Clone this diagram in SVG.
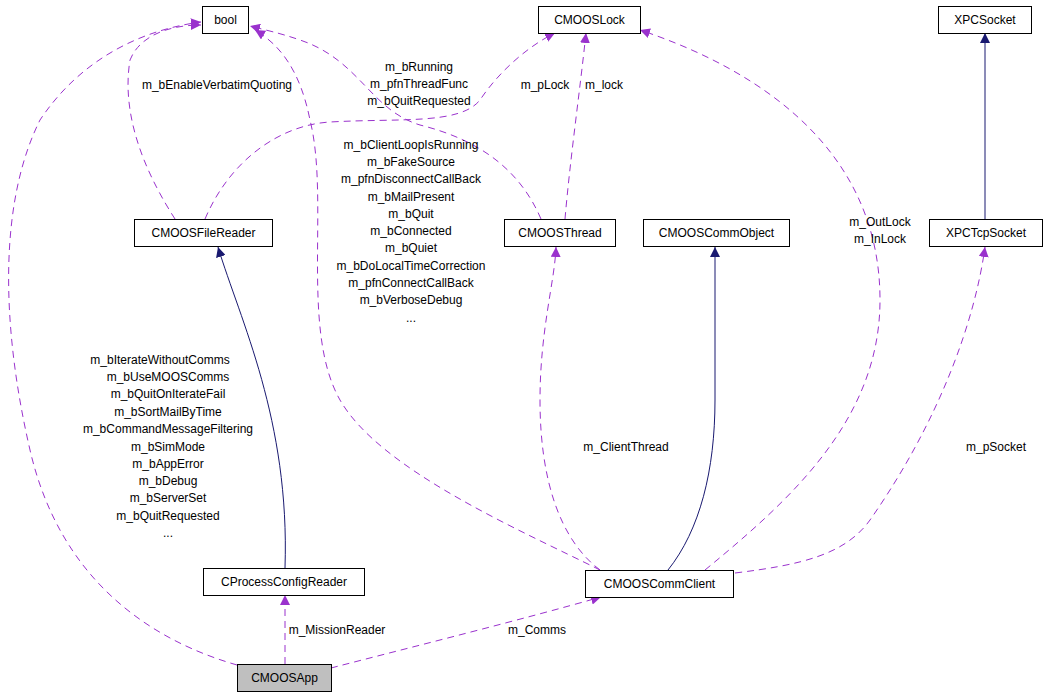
<svg xmlns="http://www.w3.org/2000/svg" width="1047" height="699" viewBox="0 0 1047 699">
<style>
text{font-family:"Liberation Sans",Arial,sans-serif;font-size:12px;fill:#000}
.n rect{fill:#fff;stroke:#000;stroke-width:1}
.n text{text-anchor:middle}
.d{fill:none;stroke:#9a32cd;stroke-dasharray:7,5}
.s{fill:none;stroke:#191970}
.l{text-anchor:middle}
</style>
<defs>
<marker id="p" viewBox="0 0 10 10" refX="10" refY="5" markerWidth="10" markerHeight="10" markerUnits="userSpaceOnUse" orient="auto"><path d="M0,0L10,5L0,10z" fill="#9a32cd"/></marker>
<marker id="b" viewBox="0 0 10 10" refX="10" refY="5" markerWidth="10" markerHeight="10" markerUnits="userSpaceOnUse" orient="auto"><path d="M0,0L10,5L0,10z" fill="#191970"/></marker>
</defs>
<rect width="1047" height="699" fill="#fff"/>
<g id="connectors">
<path class="d" marker-end="url(#p)" d="M237,665 C150,640 60,580 30,450 C0,320 0,200 40,120 C80,60 140,30 201,22"/>
<path class="d" marker-end="url(#p)" d="M175,219 C150,180 120,120 130,60 C140,35 170,25 201,25"/>
<path class="d" marker-end="url(#p)" d="M541,219 C520,170 480,140 420,125 C370,110 360,60 300,40 C280,33 265,30 250,26"/>
<path class="d" marker-end="url(#p)" d="M205,219 C230,160 280,125 330,122 C400,118 460,125 480,100 C500,70 530,45 555,33"/>
<path class="d" marker-end="url(#p)" d="M565,219 C570,160 580,90 586,33"/>
<path class="d" marker-end="url(#p)" d="M600,570 C520,530 380,470 340,400 C300,330 330,200 310,120 C300,70 280,45 255,30"/>
<path class="d" marker-end="url(#p)" d="M705,570 C790,500 880,420 880,300 C880,150 760,70 640,30"/>
<path class="d" marker-end="url(#p)" d="M600,570 C560,540 540,480 540,400 C540,330 555,280 556,247"/>
<path class="s" marker-end="url(#b)" d="M668,570 C700,530 715,470 715,400 L715,247"/>
<path class="d" marker-end="url(#p)" d="M735,573 C800,565 845,555 870,520 C940,420 975,320 985,247"/>
<path class="s" marker-end="url(#b)" d="M985,219 L985,33"/>
<path class="s" marker-end="url(#b)" d="M285,568 C290,420 240,320 218,247"/>
<path class="d" marker-end="url(#p)" d="M285,664 L285,595"/>
<path class="d" marker-end="url(#p)" d="M331,668 C420,645 520,620 601,597"/>
</g>
<g id="labels">
<text class="l" x="160" y="364">m_bIterateWithoutComms</text>
<text class="l" x="168" y="381">m_bUseMOOSComms</text>
<text class="l" x="168" y="398">m_bQuitOnIterateFail</text>
<text class="l" x="168" y="416">m_bSortMailByTime</text>
<text class="l" x="168" y="433">m_bCommandMessageFiltering</text>
<text class="l" x="168" y="468" dy="-17">m_bSimMode</text>
<text class="l" x="168" y="468">m_bAppError</text>
<text class="l" x="168" y="485">m_bDebug</text>
<text class="l" x="168" y="502">m_bServerSet</text>
<text class="l" x="168" y="520">m_bQuitRequested</text>
<text class="l" x="168" y="537">...</text>
<text class="l" x="217" y="89">m_bEnableVerbatimQuoting</text>
<text class="l" x="419" y="71">m_bRunning</text>
<text class="l" x="419" y="88">m_pfnThreadFunc</text>
<text class="l" x="419" y="105">m_bQuitRequested</text>
<text class="l" x="545" y="89">m_pLock</text>
<text class="l" x="604" y="89">m_lock</text>
<text class="l" x="411" y="149">m_bClientLoopIsRunning</text>
<text class="l" x="411" y="166">m_bFakeSource</text>
<text class="l" x="411" y="183">m_pfnDisconnectCallBack</text>
<text class="l" x="411" y="201">m_bMailPresent</text>
<text class="l" x="411" y="218">m_bQuit</text>
<text class="l" x="411" y="235">m_bConnected</text>
<text class="l" x="411" y="252">m_bQuiet</text>
<text class="l" x="411" y="270">m_bDoLocalTimeCorrection</text>
<text class="l" x="411" y="287">m_pfnConnectCallBack</text>
<text class="l" x="411" y="304">m_bVerboseDebug</text>
<text class="l" x="411" y="322">...</text>
<text class="l" x="880" y="226">m_OutLock</text>
<text class="l" x="880" y="243">m_InLock</text>
<text class="l" x="626" y="451">m_ClientThread</text>
<text class="l" x="996" y="451">m_pSocket</text>
<text class="l" x="337" y="634">m_MissionReader</text>
<text class="l" x="537" y="634">m_Comms</text>
</g>
<g id="bool" class="n"><rect x="202.5" y="6.5" width="46" height="27"/><text x="225.5" y="24">bool</text></g>
<g id="CMOOSLock" class="n"><rect x="538.5" y="6.5" width="102" height="27"/><text x="589.5" y="24">CMOOSLock</text></g>
<g id="XPCSocket" class="n"><rect x="938.5" y="6.5" width="93" height="27"/><text x="985" y="24">XPCSocket</text></g>
<g id="CMOOSFileReader" class="n"><rect x="134.5" y="219.5" width="138" height="27"/><text x="203.5" y="237">CMOOSFileReader</text></g>
<g id="CMOOSThread" class="n"><rect x="504.5" y="219.5" width="111" height="27"/><text x="560" y="237">CMOOSThread</text></g>
<g id="CMOOSCommObject" class="n"><rect x="643.5" y="219.5" width="146" height="27"/><text x="716.5" y="237">CMOOSCommObject</text></g>
<g id="XPCTcpSocket" class="n"><rect x="929.5" y="219.5" width="113" height="27"/><text x="986" y="237">XPCTcpSocket</text></g>
<g id="CProcessConfigReader" class="n"><rect x="203.5" y="568.5" width="161" height="27"/><text x="284" y="586">CProcessConfigReader</text></g>
<g id="CMOOSCommClient" class="n"><rect x="585.5" y="570.5" width="148" height="27"/><text x="659.5" y="588">CMOOSCommClient</text></g>
<g id="CMOOSApp" class="n"><rect x="237.5" y="664.5" width="94" height="27" style="fill:#bfbfbf"/><text x="284.5" y="682">CMOOSApp</text></g>
</svg>
